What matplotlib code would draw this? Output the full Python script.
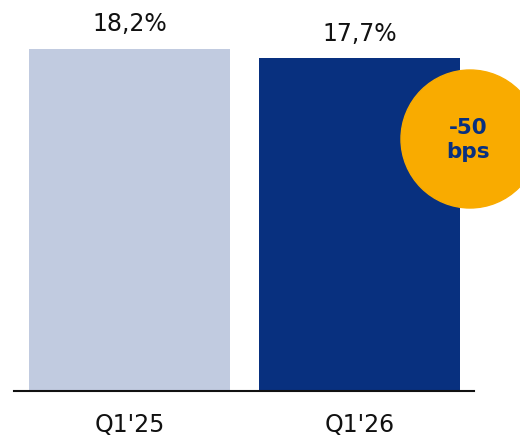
import matplotlib.pyplot as plt
from matplotlib.patches import Ellipse

quarters = ["Q1'25", "Q1'26"]
values = [18.2, 17.7]
value_labels = ["18,2%", "17,7%"]
delta_label = "-50\nbps"

bar_colors = ["#C1CBE0", "#08307F"]
badge_color = "#F9AB00"
text_color = "#111111"

W, H = 520, 437
fig = plt.figure(figsize=(W / 100, H / 100), dpi=100)

# axes spans the baseline; top of axes sits at the top of the figure
ax = fig.add_axes([14 / W, (H - 391) / H, 460 / W, 391 / H])
ax.set_xlim(-0.502, 1.498)
ax.set_ylim(0, 18.2 * 391 / 342)

x = range(len(quarters))
ax.bar(x, values, width=0.874, color=bar_colors, zorder=2)

for xi, v, lab in zip(x, values, value_labels):
    ax.annotate(lab, (xi, v), xytext=(0, 9), textcoords="offset points",
                ha="center", va="bottom", fontsize=17, color=text_color)

for s in ["top", "right", "left"]:
    ax.spines[s].set_visible(False)
ax.spines["bottom"].set_linewidth(1.5)
ax.spines["bottom"].set_color("#111111")
ax.set_yticks([])
ax.set_xticks(list(x))
ax.set_xticklabels(quarters, fontsize=17, color=text_color)
ax.tick_params(axis="x", length=0, pad=16)

# change badge, drawn in figure coordinates so it stays round
cx, cy, r = 470, 139, 69
badge = Ellipse((cx / W, 1 - cy / H), 2 * r / W, 2 * r / H,
                transform=fig.transFigure, color=badge_color, zorder=5)
fig.patches.append(badge)
fig.text(468 / W, 1 - 140 / H, delta_label, ha="center", va="center",
         fontsize=15.5, fontweight="bold", color="#08307F",
         linespacing=1.3, zorder=6)

fig.savefig("out.png", dpi=100)
